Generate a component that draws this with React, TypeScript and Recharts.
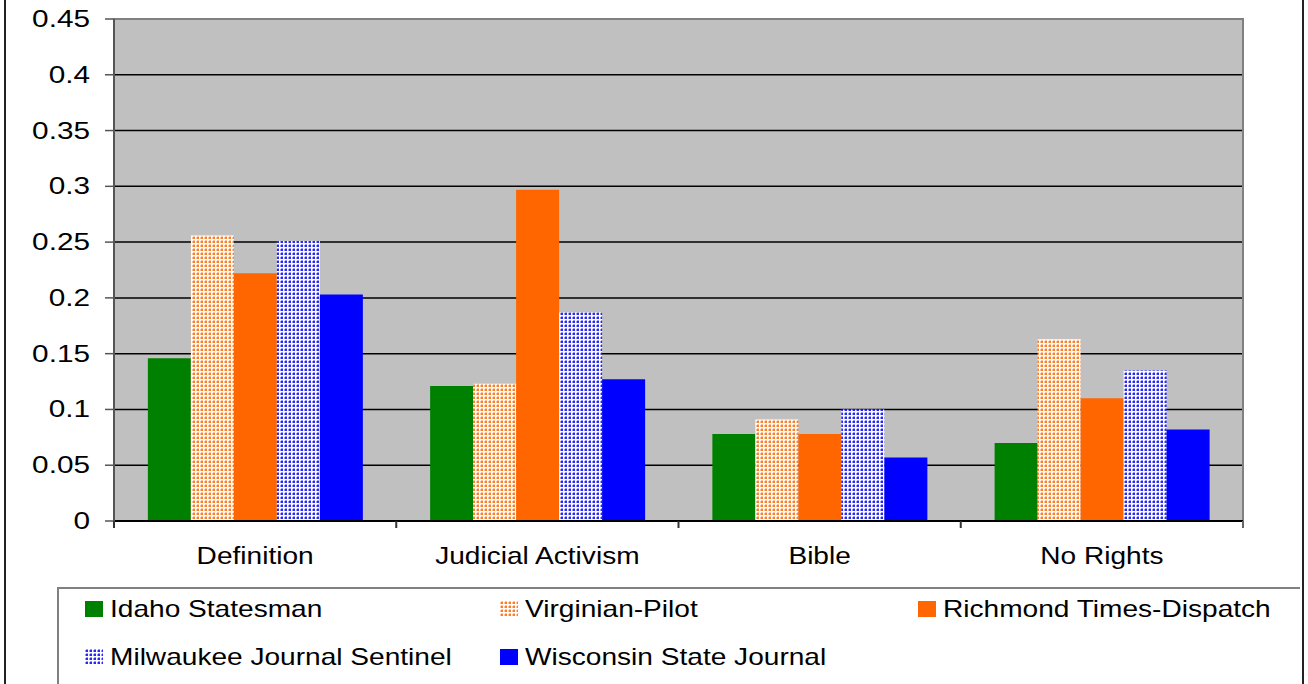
import { BarChart, Bar, XAxis, YAxis, CartesianGrid, ReferenceArea } from 'recharts';

const categories = ['Definition', 'Judicial Activism', 'Bible', 'No Rights'];
const idahoStatesman = [0.146, 0.121, 0.078, 0.070];
const virginianPilot = [0.256, 0.123, 0.091, 0.163];
const richmondTimesDispatch = [0.222, 0.297, 0.078, 0.110];
const milwaukeeJournalSentinel = [0.251, 0.187, 0.100, 0.135];
const wisconsinStateJournal = [0.203, 0.127, 0.057, 0.082];
const yTicks = [0, 0.05, 0.1, 0.15, 0.2, 0.25, 0.3, 0.35, 0.4, 0.45];

const series = [
  { key: 'idaho', name: 'Idaho Statesman', fill: '#008000', values: idahoStatesman },
  { key: 'virginian', name: 'Virginian-Pilot', fill: 'url(#dotsOrange)', values: virginianPilot },
  { key: 'richmond', name: 'Richmond Times-Dispatch', fill: '#FF6600', values: richmondTimesDispatch },
  { key: 'milwaukee', name: 'Milwaukee Journal Sentinel', fill: 'url(#dotsBlue)', values: milwaukeeJournalSentinel },
  { key: 'wisconsin', name: 'Wisconsin State Journal', fill: '#0000FF', values: wisconsinStateJournal },
];

const data = categories.map((c, i) => {
  const row: Record<string, string | number> = { name: c };
  series.forEach((s) => { row[s.key] = s.values[i]; });
  return row;
});

const FONT = '"Liberation Sans", Arial, sans-serif';
const STRETCH = 1.17;

function DotPattern({ id, color }: { id: string; color: string }) {
  return (
    <pattern id={id} width={4} height={4} patternUnits="userSpaceOnUse">
      <rect width={4} height={4} fill="#FFFFFF" />
      <rect x={1} y={1} width={2} height={2} fill={color} opacity={0.85} />
      <rect x={1} y={0} width={2} height={1} fill={color} opacity={0.4} />
      <rect x={0} y={1} width={1} height={2} fill={color} opacity={0.4} />
    </pattern>
  );
}

const YTick = (props: any) => {
  const { x, y, payload } = props;
  return (
    <text
      transform={`translate(${x - 13},${y}) scale(1.24,1)`}
      textAnchor="end"
      dominantBaseline="central"
      fontSize={24}
      fontFamily={FONT}
      fill="#000"
    >
      {payload.value}
    </text>
  );
};

const XTick = (props: any) => {
  const { x, y, payload, index } = props;
  const off = payload.offset ?? 0;
  const left = payload.coordinate - off;
  const right = payload.coordinate + off;
  return (
    <g>
      <line x1={left} y1={y} x2={left} y2={y + 7} stroke="#333" strokeWidth={2} />
      {index === categories.length - 1 && (
        <line x1={right} y1={y} x2={right} y2={y + 7} stroke="#666" strokeWidth={2} />
      )}
      <text
        transform={`translate(${x},${y + 35}) scale(${STRETCH},1)`}
        textAnchor="middle"
        dominantBaseline="central"
        fontSize={24}
        fontFamily={FONT}
        fill="#000"
      >
        {payload.value}
      </text>
    </g>
  );
};

function Swatch({ s }: { s: typeof series[number] }) {
  const pid = 'lg-' + s.key;
  const patterned = s.fill.startsWith('url');
  const color = s.key === 'virginian' ? '#FF6600' : '#0000FF';
  return (
    <svg width={18} height={16} style={{ display: 'block', marginRight: 7 }}>
      {patterned && (
        <defs>
          <DotPattern id={pid} color={color} />
        </defs>
      )}
      <rect width={18} height={16} fill={patterned ? `url(#${pid})` : s.fill} />
    </svg>
  );
}

const legendCols = [85, 500, 918];

export default function App() {
  return (
    <div style={{ position: 'absolute', left: 0, top: 0, width: 1308, height: 684, background: '#fff', overflow: 'hidden' }}>
      <div style={{ position: 'absolute', left: 4, top: -10, width: 1296, height: 710, borderLeft: '2px solid #222', borderRight: '2px solid #222' }} />
      <BarChart
        width={1308}
        height={684}
        data={data}
        margin={{ top: 19, right: 65, bottom: 123, left: 54 }}
        barCategoryGap="12%"
        barGap={0}
      >
        <defs>
          <DotPattern id="dotsOrange" color="#FF6600" />
          <DotPattern id="dotsBlue" color="#0000FF" />
        </defs>
        <CartesianGrid vertical={false} stroke="#000" strokeWidth={1.5} fill="#C0C0C0" fillOpacity={1} />
        <ReferenceArea y1={0} y2={0.45} fill="none" stroke="#808080" strokeWidth={2} />
        <XAxis
          dataKey="name"
          height={40}
          tickLine={false}
          tickSize={0}
          tickMargin={0}
          axisLine={{ stroke: '#000', strokeWidth: 2 }}
          tick={<XTick />}
          interval={0}
        />
        <YAxis
          width={60}
          domain={[0, 0.45]}
          ticks={yTicks}
          interval={0}
          tickSize={9}
          tickLine={{ stroke: '#555', strokeWidth: 1.5 }}
          axisLine={{ stroke: '#555', strokeWidth: 2 }}
          tick={<YTick />}
        />
        {series.map((s) => (
          <Bar key={s.key} dataKey={s.key} name={s.name} fill={s.fill} isAnimationActive={false} />
        ))}
      </BarChart>
      <div style={{ position: 'absolute', left: 57, top: 587, width: 1243, height: 120, borderTop: '2px solid #808080', borderLeft: '2px solid #808080', boxSizing: 'border-box' }} />
      {series.map((s, i) => (
        <div
          key={s.key}
          style={{
            position: 'absolute',
            left: legendCols[i % 3],
            top: i < 3 ? 609 : 657,
            transform: 'translateY(-50%)',
            display: 'flex',
            alignItems: 'center',
          }}
        >
          <Swatch s={s} />
          <span
            style={{
              fontFamily: FONT,
              fontSize: 24,
              color: '#000',
              display: 'inline-block',
              transform: `scaleX(${STRETCH})`,
              transformOrigin: 'left center',
              whiteSpace: 'nowrap',
              lineHeight: '28px',
            }}
          >
            {s.name}
          </span>
        </div>
      ))}
    </div>
  );
}
